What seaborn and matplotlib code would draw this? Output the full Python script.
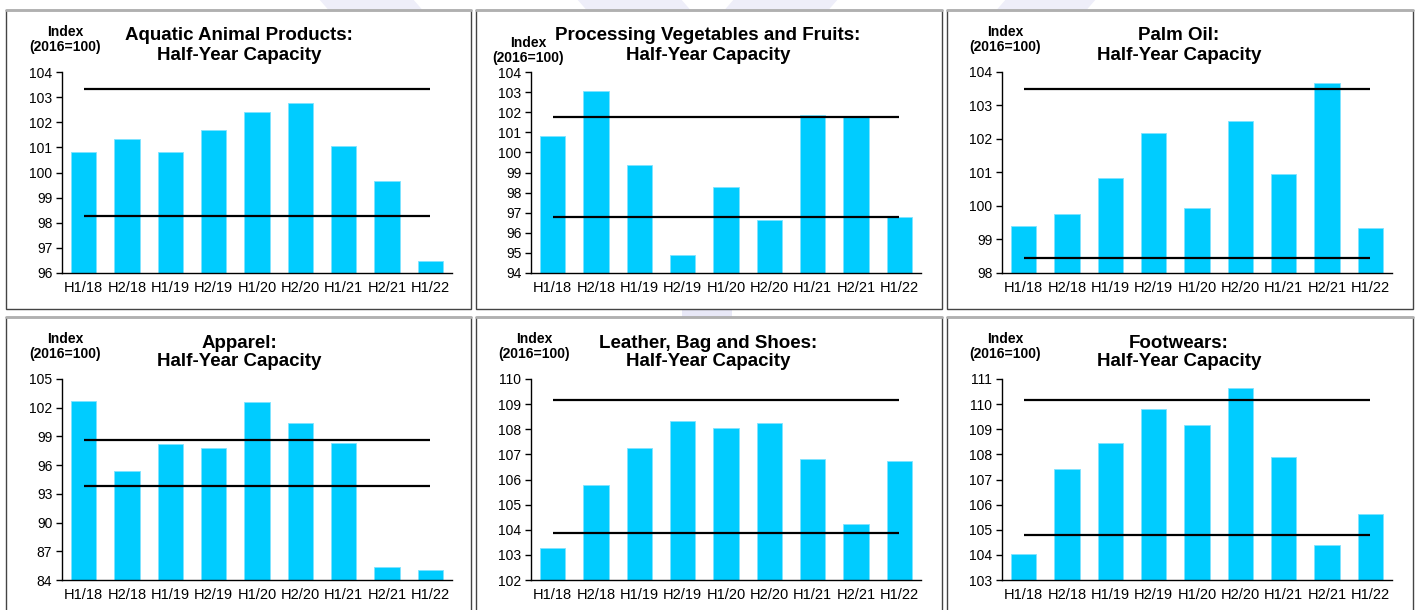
import matplotlib

matplotlib.use("Agg")
import matplotlib.pyplot as plt
import seaborn as sns
from matplotlib.patches import Polygon, Rectangle

# Half-year periods shared by every panel
periods = ["H1/18", "H2/18", "H1/19", "H2/19", "H1/20", "H2/20", "H1/21", "H2/21", "H1/22"]

# Capacity index values (2016=100)
aquatic = [100.80, 101.33, 100.80, 101.68, 102.39, 102.78, 101.04, 99.67, 96.46]
vegetables = [100.83, 103.07, 99.39, 94.91, 98.30, 96.64, 101.84, 101.76, 96.80]
palm_oil = [99.41, 99.76, 100.84, 102.18, 99.94, 102.54, 100.97, 103.68, 99.34]
apparel = [102.71, 95.40, 98.22, 97.77, 102.60, 100.38, 98.33, 85.36, 85.01]
leather = [103.26, 105.79, 107.25, 108.34, 108.03, 108.24, 106.81, 104.21, 106.73]
footwear = [104.03, 107.41, 108.46, 109.79, 109.17, 110.63, 107.89, 104.40, 105.61]

# Upper / lower reference lines for each panel
aquatic_bands = [103.31, 98.27]
vegetables_bands = [101.76, 96.80]
palm_oil_bands = [103.49, 98.45]
apparel_bands = [98.60, 93.81]
leather_bands = [109.18, 103.87]
footwear_bands = [110.18, 104.81]

titles = [
    "Aquatic Animal Products:",
    "Processing Vegetables and Fruits:",
    "Palm Oil:",
    "Apparel:",
    "Leather, Bag and Shoes:",
    "Footwears:",
]

BAR_COLOR = "#00CCFF"
W, H = 1418, 610

sns.set_style("white")
plt.rcParams["font.family"] = ["Liberation Sans", "DejaVu Sans"]
plt.rcParams["text.color"] = "black"

fig = plt.figure(figsize=(W / 100, H / 100), dpi=100)


def fx(px):
    return px / W


def fy(py):
    # pixel measured from the top of the image
    return 1 - py / H


# faint watermark shapes showing between the panel boxes
for xs in [(318, 412, 426, 332), (576, 680, 694, 590), (735, 839, 825, 721), (1007, 1097, 1083, 993)]:
    fig.patches.append(Polygon(
        [(fx(xs[0]), fy(-2)), (fx(xs[1]), fy(-2)), (fx(xs[2]), fy(14)), (fx(xs[3]), fy(14))],
        closed=True, transform=fig.transFigure, facecolor="#EEEEF9", edgecolor="none", zorder=0))
fig.patches.append(Rectangle((fx(682), fy(322)), fx(50), 12 / H, transform=fig.transFigure,
                             facecolor="#E8E8F7", edgecolor="none", zorder=0))

panels = [
    (aquatic, aquatic_bands, (96, 104), range(96, 105, 1)),
    (vegetables, vegetables_bands, (94, 104), range(94, 105, 1)),
    (palm_oil, palm_oil_bands, (98, 104), range(98, 105, 1)),
    (apparel, apparel_bands, (84, 105), range(84, 106, 3)),
    (leather, leather_bands, (102, 110), range(102, 111, 1)),
    (footwear, footwear_bands, (103, 111), range(103, 112, 1)),
]

box_lefts = [6, 476, 947]
box_widths = [465, 466, 466]
axes_lefts = [62, 531, 1002]
row_shift = [0, 307]

for i, (values, bands, ylim, yticks) in enumerate(panels):
    col, row = i % 3, i // 3
    dy = row_shift[row]

    # panel frame
    top = 10 + dy
    box_h = 299
    fig.patches.append(Rectangle((fx(box_lefts[col]), fy(top + box_h)), fx(box_widths[col]), box_h / H,
                                 transform=fig.transFigure, facecolor="white", edgecolor="#444444",
                                 linewidth=1.0, zorder=1))
    fig.lines.append(plt.Line2D([fx(box_lefts[col]), fx(box_lefts[col] + box_widths[col])],
                                [fy(top), fy(top)], transform=fig.transFigure,
                                color="#B0B0B0", linewidth=2.0, zorder=2))

    ax_top, ax_bot = 72 + dy, 273 + dy
    ax = fig.add_axes([fx(axes_lefts[col]), fy(ax_bot), fx(390), (ax_bot - ax_top) / H])
    ax.set_zorder(3)
    ax.patch.set_alpha(0)

    sns.barplot(x=periods, y=values, color=BAR_COLOR, width=0.58, saturation=1,
                edgecolor="#7FE3FF", linewidth=0.6, ax=ax)
    ax.hlines(bands, 0, len(periods) - 1, color="black", linewidth=1.6, zorder=4)

    ax.set_ylim(*ylim)
    ax.set_yticks(list(yticks))
    ax.set_xlim(-0.5, len(periods) - 0.5)
    ax.set_xticks(range(len(periods)))
    ax.set_xticks([k - 0.5 for k in range(len(periods) + 1)], minor=True)
    ax.tick_params(axis="x", which="major", length=0, labelsize=10.5, pad=6, colors="black")
    ax.tick_params(axis="x", which="minor", length=4, width=1, direction="out", color="black")
    ax.tick_params(axis="y", length=4, width=1, direction="out", labelsize=10, pad=3,
                   colors="black", left=True)
    ax.set_xlabel("")
    ax.set_ylabel("")
    for side in ["top", "right"]:
        ax.spines[side].set_visible(False)
    for side in ["left", "bottom"]:
        ax.spines[side].set_color("black")
        ax.spines[side].set_linewidth(1.0)

    # two-line title and the unit label
    tx = fx(axes_lefts[col] + 177)
    fig.text(tx, fy(36 + dy), titles[i], ha="center", va="center",
             fontsize=13.5, fontweight="bold", zorder=5)
    fig.text(tx, fy(55 + dy), "Half-Year Capacity", ha="center", va="center",
             fontsize=13.5, fontweight="bold", zorder=5)
    if i == 1:
        ix, iy = axes_lefts[col] - 3, 43
    else:
        ix, iy = axes_lefts[col] + 3, 32
    fig.text(fx(ix), fy(iy + dy), "Index", ha="center", va="center",
             fontsize=10, fontweight="bold", zorder=5)
    fig.text(fx(ix), fy(iy + 15 + dy), "(2016=100)", ha="center", va="center",
             fontsize=10, fontweight="bold", zorder=5)

fig.savefig("out.png", dpi=100)
